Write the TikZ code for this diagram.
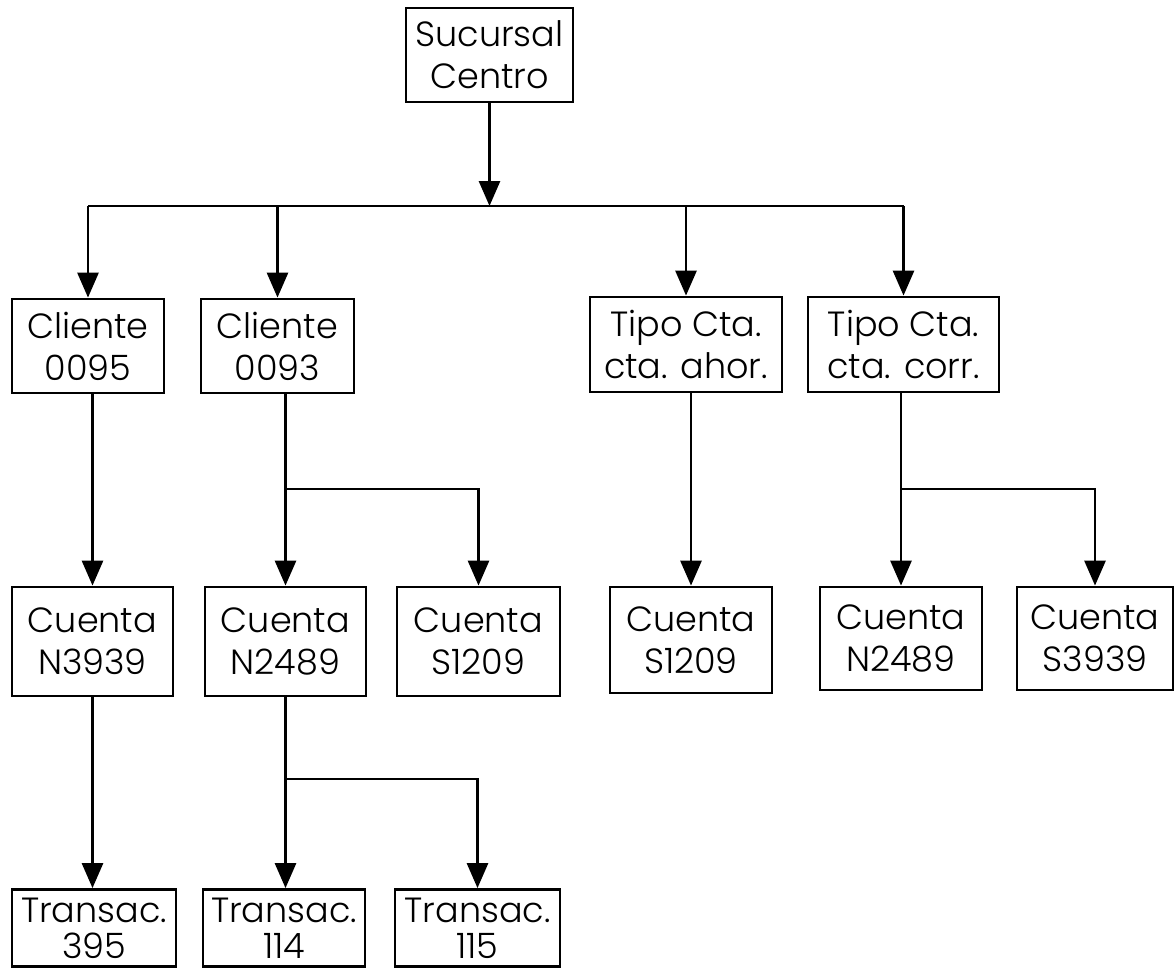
\documentclass[tikz,border=0pt]{standalone}
\usepackage{fontspec}
\setmainfont{Poppins Light}
\usetikzlibrary{arrows.meta}
\begin{document}
\begin{tikzpicture}[x=1pt,y=-1pt,
  box/.style={draw, line width=2.8pt, inner sep=0pt, align=center,
    font=\fontsize{35}{42}\selectfont},
  tbox/.style={box, font=\fontsize{35}{36}\selectfont},
  link/.style={line width=2.8pt},
  arr/.style={link, -{Triangle[width=21pt,length=25pt]}}]
\useasboundingbox (0,0) rectangle (1174,969);

% root
\node[box, minimum width=167pt, minimum height=94pt] (suc) at (489.5,55) {Sucursal\\Centro};

% first level
\node[box, minimum width=152pt, minimum height=94pt] (c95) at (88,346) {Cliente\\0095};
\node[box, minimum width=153pt, minimum height=94pt] (c93) at (277.5,346) {Cliente\\0093};
\node[box, minimum width=192pt, minimum height=95pt] (tah) at (686,344.5) {Tipo Cta.\\cta. ahor.};
\node[box, minimum width=191pt, minimum height=95pt] (tco) at (903.5,344.5) {Tipo Cta.\\cta. corr.};

% accounts
\node[box, minimum width=161pt, minimum height=109pt] (n3939) at (92.5,641.5) {Cuenta\\N3939};
\node[box, minimum width=161pt, minimum height=109pt] (n2489) at (285.5,641.5) {Cuenta\\N2489};
\node[box, minimum width=163pt, minimum height=109pt] (s1209a) at (478.5,641.5) {Cuenta\\S1209};
\node[box, minimum width=162pt, minimum height=106pt] (s1209b) at (691,640) {Cuenta\\S1209};
\node[box, minimum width=162pt, minimum height=103pt] (n2489b) at (901,638.5) {Cuenta\\N2489};
\node[box, minimum width=156pt, minimum height=103pt] (s3939) at (1095,638.5) {Cuenta\\S3939};

% transactions
\node[tbox, minimum width=164pt, minimum height=77pt] (t395) at (94,928) {Transac.\\395};
\node[tbox, minimum width=162pt, minimum height=77pt] (t114) at (284,928) {Transac.\\114};
\node[tbox, minimum width=165pt, minimum height=77pt] (t115) at (477.5,928) {Transac.\\115};

% root to first level
\coordinate (bus) at (489.5,206);
\draw[arr] (suc.south) -- (bus);
\draw[link] (c95.north |- bus) -- (tco.north |- bus);
\foreach \n in {c95,c93,tah,tco}
  \draw[arr] (\n.north |- bus) -- (\n.north);

% first level to accounts
\draw[arr] (c95.south -| n3939) -- (n3939.north);
\draw[arr] (c93.south -| n2489) -- (n2489.north);
\coordinate (j1) at (285.5,489);
\draw[arr] (j1) -| (s1209a.north);
\draw[arr] (tah.south -| s1209b) -- (s1209b.north);
\draw[arr] (tco.south -| n2489b) -- (n2489b.north);
\coordinate (j2) at (901,489);
\draw[arr] (j2) -| (s3939.north);

% accounts to transactions
\draw[arr] (n3939.south) -- (n3939.south |- t395.north);
\draw[arr] (n2489.south) -- (n2489.south |- t114.north);
\coordinate (j3) at (285.5,779);
\draw[arr] (j3) -| (t115.north);
\end{tikzpicture}
\end{document}
